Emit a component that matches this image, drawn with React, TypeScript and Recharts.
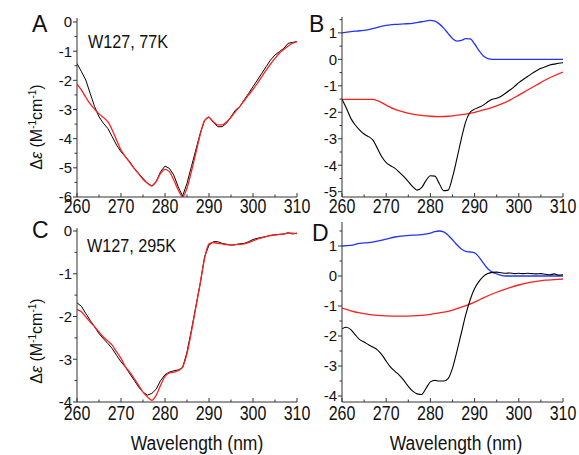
import React from 'react';
import { LineChart, Line, XAxis, YAxis } from 'recharts';

const FONT = '"Liberation Sans", Arial, Helvetica, sans-serif';
const AXIS = '#333333';
const TXT = '#111111';
const BLACK = '#000000';
const RED = '#ff1f1f';
const BLUE = '#2233ff';

// wavelength grid (nm)
const wavelengths = [
  260, 261, 262, 263, 264, 265, 266, 267, 268, 269,
  270, 271, 272, 273, 274, 275, 276, 277, 278, 279,
  280, 281, 282, 283, 284, 285, 286, 287, 288, 289,
  290, 291, 292, 293, 294, 295, 296, 297, 298, 299,
  300, 301, 302, 303, 304, 305, 306, 307, 308, 309, 310,
];
const wavelengths2 = [
  260, 262, 264, 266, 268, 270, 272, 274, 276, 278, 280, 282, 284,
  286, 288, 290, 292, 294, 296, 298, 300, 302, 304, 306, 308, 310,
];

// Panel A: W127, 77K
const aBlack = [
  -1.42, -1.7, -1.99, -2.45, -2.9, -3.25, -3.47, -3.65, -3.93, -4.22,
  -4.45, -4.62, -4.79, -5.02, -5.19, -5.36, -5.53, -5.62, -5.47, -5.13,
  -4.94, -5.02, -5.25, -5.65, -5.97, -5.53, -4.96, -4.39, -3.82, -3.36,
  -3.25, -3.45, -3.59, -3.59, -3.47, -3.25, -3.02, -2.9, -2.67, -2.45,
  -2.22, -1.99, -1.76, -1.53, -1.3, -1.13, -1.02, -0.9, -0.73, -0.7, -0.67,
];
const aRed = [
  -2.13, -2.33, -2.58, -2.81, -2.99, -3.15, -3.27, -3.42, -3.7, -4.05,
  -4.39, -4.62, -4.82, -5.02, -5.21, -5.39, -5.53, -5.62, -5.47, -5.19,
  -5.05, -5.13, -5.42, -5.76, -5.99, -5.7, -5.13, -4.5, -3.87, -3.38,
  -3.27, -3.42, -3.53, -3.53, -3.42, -3.27, -3.07, -2.9, -2.7, -2.5,
  -2.31, -2.1, -1.87, -1.65, -1.44, -1.25, -1.07, -0.94, -0.82, -0.73, -0.67,
];

// Panel B
const bBlack = [
  -1.51, -1.85, -2.23, -2.48, -2.67, -2.82, -2.92, -3.05, -3.36, -3.68,
  -3.9, -4.02, -4.12, -4.27, -4.43, -4.62, -4.81, -4.94, -4.85, -4.58,
  -4.4, -4.41, -4.69, -4.96, -4.94, -4.45, -3.75, -3.0, -2.35, -2.0,
  -1.88, -1.81, -1.73, -1.6, -1.51, -1.47, -1.39, -1.28, -1.16, -1.03,
  -0.88, -0.76, -0.65, -0.53, -0.43, -0.34, -0.28, -0.21, -0.18, -0.15, -0.13,
];
const bRedX = [
  260, 267, 268, 270, 272, 274, 276, 278, 280, 282, 284, 286,
  288, 290, 292, 294, 296, 298, 300, 302, 304, 306, 308, 310,
];
const bRed = [
  -1.51, -1.51, -1.56, -1.73, -1.89, -1.99, -2.07, -2.12, -2.15, -2.16, -2.15, -2.11,
  -2.07, -2.0, -1.91, -1.81, -1.69, -1.54, -1.35, -1.16, -0.97, -0.78, -0.62, -0.48,
];
const bBlueX = [
  260, 262, 264, 266, 268, 270, 272, 274, 276, 278, 280, 281, 282, 283, 284, 285, 286,
  287, 288, 289, 290, 291, 292, 293, 294, 296, 298, 300, 302, 304, 306, 308, 310,
];
const bBlue = [
  1.0, 1.05, 1.08, 1.12, 1.21, 1.28, 1.32, 1.34, 1.36, 1.42, 1.47, 1.44, 1.34, 1.18, 0.98, 0.79, 0.69,
  0.72, 0.78, 0.77, 0.58, 0.33, 0.13, 0.03, 0, 0, 0, 0, 0, 0, 0, 0, 0,
];

// Panel C: W127, 295K
const cBlack = [
  -1.68, -1.76, -1.93, -2.09, -2.24, -2.4, -2.52, -2.63, -2.75, -2.91,
  -3.06, -3.18, -3.34, -3.49, -3.65, -3.77, -3.84, -3.8, -3.7, -3.5,
  -3.36, -3.3, -3.27, -3.25, -3.2, -2.83, -2.32, -1.77, -1.23, -0.6,
  -0.33, -0.25, -0.25, -0.29, -0.31, -0.33, -0.32, -0.3, -0.29, -0.25,
  -0.2, -0.17, -0.15, -0.13, -0.1, -0.09, -0.08, -0.07, -0.04, -0.07, -0.05,
];
const cRed = [
  -1.84, -1.89, -2.01, -2.13, -2.24, -2.36, -2.48, -2.57, -2.67, -2.83,
  -2.98, -3.18, -3.3, -3.45, -3.61, -3.77, -3.88, -3.96, -3.84, -3.61,
  -3.4, -3.32, -3.3, -3.27, -3.18, -2.87, -2.36, -1.79, -1.23, -0.64,
  -0.3, -0.27, -0.29, -0.3, -0.32, -0.33, -0.32, -0.31, -0.3, -0.27,
  -0.23, -0.19, -0.16, -0.13, -0.11, -0.09, -0.08, -0.07, -0.05, -0.05, -0.06,
];

// Panel D
const dBlack = [
  -1.76, -1.71, -1.79, -1.96, -2.12, -2.2, -2.29, -2.37, -2.46, -2.62,
  -2.84, -3.04, -3.18, -3.31, -3.48, -3.68, -3.84, -3.93, -3.95, -3.75,
  -3.53, -3.48, -3.5, -3.5, -3.42, -3.07, -2.51, -1.9, -1.29, -0.79,
  -0.42, -0.18, -0.01, 0.08, 0.12, 0.13, 0.11, 0.09, 0.1, 0.08,
  0.09, 0.08, 0.09, 0.08, 0.07, 0.08, 0.06, 0.04, 0.07, 0.03, 0.04,
];
const dRed = [
  -1.07, -1.16, -1.23, -1.28, -1.31, -1.33, -1.34, -1.34, -1.33, -1.31, -1.28, -1.23, -1.18,
  -1.09, -0.99, -0.87, -0.73, -0.6, -0.49, -0.39, -0.3, -0.23, -0.18, -0.14, -0.12, -0.1,
];
const dBlueX = [
  260, 262, 264, 266, 268, 270, 272, 274, 276, 278, 280, 281, 282, 283, 284, 285,
  286, 287, 288, 289, 290, 291, 292, 293, 294, 295, 296, 297, 300, 305, 310,
];
const dBlue = [
  1.0, 1.02, 1.09, 1.11, 1.16, 1.23, 1.3, 1.34, 1.36, 1.38, 1.43, 1.48, 1.5, 1.47, 1.36, 1.21,
  1.04, 0.9, 0.82, 0.8, 0.77, 0.63, 0.43, 0.24, 0.13, 0.07, 0.02, 0, 0, 0, 0,
];

// ticks
const xTicks = [260, 265, 270, 275, 280, 285, 290, 295, 300, 305, 310];
const yTicksA = [-6, -5.5, -5, -4.5, -4, -3.5, -3, -2.5, -2, -1.5, -1, -0.5, 0];
const yTicksB = [-5, -4.5, -4, -3.5, -3, -2.5, -2, -1.5, -1, -0.5, 0, 0.5, 1, 1.5];
const yTicksC = [-4, -3.5, -3, -2.5, -2, -1.5, -1, -0.5, 0];
const yTicksD = [-4, -3.5, -3, -2.5, -2, -1.5, -1, -0.5, 0, 0.5, 1, 1.5];

const zip = (xs: number[], ys: number[]) => xs.map((x, i) => ({ x, y: ys[i] }));

const makeXTick = (labelDy: number) => (props: any) => {
  const { x, y, payload } = props;
  const v = payload.value as number;
  const major = v % 10 === 0;
  return (
    <g>
      <line x1={x} x2={x} y1={y} y2={y - (major ? 4 : 2.5)} stroke={AXIS} strokeWidth={1} />
      {major && (
        <text
          transform={`translate(${x},${y + labelDy}) scale(1,1.22)`}
          textAnchor="middle"
          fontSize={16}
          fontFamily={FONT}
          fill={TXT}
        >
          {v}
        </text>
      )}
    </g>
  );
};

const yTick = (props: any) => {
  const { x, y, payload } = props;
  const v = payload.value as number;
  const major = Math.abs(v - Math.round(v)) < 1e-6;
  return (
    <g>
      <line x1={x} x2={x - (major ? 4 : 2.5)} y1={y} y2={y} stroke={AXIS} strokeWidth={1} />
      {major && (
        <text x={x - 5} y={y} dy="0.36em" textAnchor="end" fontSize={15} fontFamily={FONT} fill={TXT}>
          {String(Math.round(v))}
        </text>
      )}
    </g>
  );
};

type Series = { name: string; data: { x: number; y: number }[]; color: string; width: number; type: any };

type PanelProps = {
  left: number;
  top: number;
  width: number;
  height: number;
  margin: { top: number; right: number; bottom: number; left: number };
  yWidth: number;
  yDomain: [number, number];
  yTicks: number[];
  series: Series[];
  labelDy: number;
};

function Panel(p: PanelProps) {
  return (
    <div style={{ position: 'absolute', left: p.left, top: p.top }}>
      <LineChart width={p.width} height={p.height} margin={p.margin} style={{ overflow: 'visible' }}>
        <XAxis
          type="number"
          dataKey="x"
          domain={[260, 310]}
          ticks={xTicks}
          interval={0}
          allowDataOverflow
          tickSize={0}
          tickMargin={0}
          tickLine={false}
          axisLine={{ stroke: AXIS, strokeWidth: 1 }}
          tick={makeXTick(p.labelDy)}
          height={30}
        />
        <YAxis
          type="number"
          domain={p.yDomain}
          ticks={p.yTicks}
          interval={0}
          allowDataOverflow
          tickSize={0}
          tickMargin={0}
          tickLine={false}
          axisLine={{ stroke: AXIS, strokeWidth: 1 }}
          tick={yTick}
          width={p.yWidth}
        />
        {p.series.map((s) => (
          <Line
            key={s.name}
            name={s.name}
            data={s.data}
            dataKey="y"
            type={s.type}
            stroke={s.color}
            strokeWidth={s.width}
            dot={false}
            activeDot={false}
            isAnimationActive={false}
          />
        ))}
      </LineChart>
    </div>
  );
}

const YLabel = ({ x, y }: { x: number; y: number }) => (
  <text transform={`translate(${x},${y}) rotate(-90)`} textAnchor="middle" fontSize={16} fontFamily={FONT} fill={TXT}>
    <tspan>Δ</tspan>
    <tspan fontStyle="italic">ε</tspan>
    <tspan> (M</tspan>
    <tspan dy={-6} fontSize={10}>-1</tspan>
    <tspan dy={6}>cm</tspan>
    <tspan dy={-6} fontSize={10}>-1</tspan>
    <tspan dy={6}>)</tspan>
  </text>
);

export default function App() {
  const seriesA: Series[] = [
    { name: 'A-exp', data: zip(wavelengths, aBlack), color: BLACK, width: 1, type: 'linear' },
    { name: 'A-fit', data: zip(wavelengths, aRed), color: RED, width: 1.3, type: 'monotone' },
  ];
  const seriesB: Series[] = [
    { name: 'B-blue', data: zip(bBlueX, bBlue), color: BLUE, width: 1.3, type: 'monotone' },
    { name: 'B-red', data: zip(bRedX, bRed), color: RED, width: 1.3, type: 'monotone' },
    { name: 'B-black', data: zip(wavelengths, bBlack), color: BLACK, width: 1.1, type: 'monotone' },
  ];
  const seriesC: Series[] = [
    { name: 'C-exp', data: zip(wavelengths, cBlack), color: BLACK, width: 1, type: 'linear' },
    { name: 'C-fit', data: zip(wavelengths, cRed), color: RED, width: 1.3, type: 'monotone' },
  ];
  const seriesD: Series[] = [
    { name: 'D-blue', data: zip(dBlueX, dBlue), color: BLUE, width: 1.3, type: 'monotone' },
    { name: 'D-red', data: zip(wavelengths2, dRed), color: RED, width: 1.3, type: 'monotone' },
    { name: 'D-black', data: zip(wavelengths, dBlack), color: BLACK, width: 1.1, type: 'monotone' },
  ];

  return (
    <div style={{ position: 'absolute', left: 0, top: 0, width: 579, height: 455, background: '#ffffff', overflow: 'hidden' }}>
      <Panel
        left={0}
        top={0}
        width={320}
        height={227}
        margin={{ top: 18, right: 23, bottom: 0, left: 0 }}
        yWidth={77}
        yDomain={[-6, 0.137]}
        yTicks={yTicksA}
        series={seriesA}
        labelDy={16}
      />
      <Panel
        left={290}
        top={0}
        width={289}
        height={227}
        margin={{ top: 17, right: 16, bottom: 0, left: 0 }}
        yWidth={52}
        yDomain={[-5.2, 1.6]}
        yTicks={yTicksB}
        series={seriesB}
        labelDy={16}
      />
      <Panel
        left={0}
        top={210}
        width={320}
        height={222}
        margin={{ top: 18, right: 23, bottom: 0, left: 0 }}
        yWidth={77}
        yDomain={[-4, 0.07]}
        yTicks={yTicksC}
        series={seriesC}
        labelDy={18}
      />
      <Panel
        left={290}
        top={210}
        width={289}
        height={222}
        margin={{ top: 12, right: 16, bottom: 0, left: 0 }}
        yWidth={52}
        yDomain={[-4.2, 1.8]}
        yTicks={yTicksD}
        series={seriesD}
        labelDy={18}
      />
      <svg
        width={579}
        height={455}
        style={{ position: 'absolute', left: 0, top: 0, pointerEvents: 'none' }}
      >
        <g fontFamily={FONT} fill={TXT}>
          <text x={32} y={32} fontSize={23}>A</text>
          <text x={309} y={32} fontSize={23}>B</text>
          <text x={32} y={238} fontSize={23}>C</text>
          <text x={312} y={241} fontSize={23}>D</text>
          <text transform="translate(88,48) scale(1,1.15)" fontSize={16.2}>W127, 77K</text>
          <text transform="translate(87,252) scale(1,1.15)" fontSize={16.2}>W127, 295K</text>
          <text transform="translate(197,450) scale(1,1.2)" fontSize={17.5} textAnchor="middle">Wavelength (nm)</text>
          <text transform="translate(456,450) scale(1,1.2)" fontSize={17.5} textAnchor="middle">Wavelength (nm)</text>
        </g>
        <YLabel x={42} y={127} />
        <YLabel x={42} y={341} />
      </svg>
    </div>
  );
}
